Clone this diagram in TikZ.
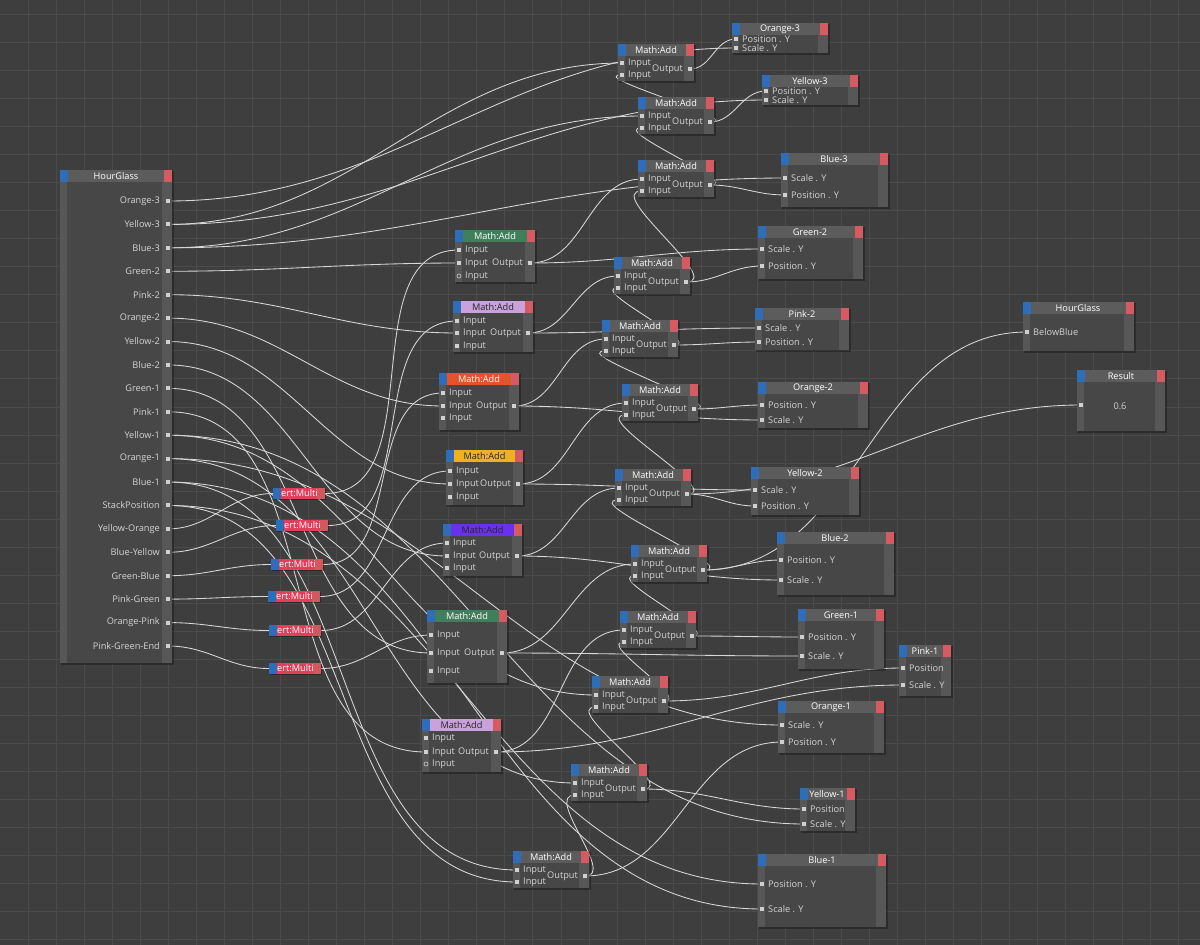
\documentclass[tikz,border=0pt]{standalone}
\usepackage{fontspec}
\setmainfont{Open Sans}
\definecolor{bg}{HTML}{3E3E3E}
\definecolor{gridc}{HTML}{4B4B4B}
\definecolor{bodyc}{HTML}{474747}
\definecolor{colc}{HTML}{575757}
\definecolor{hdr}{HTML}{5C5C5C}
\definecolor{tabb}{HTML}{2F6DB8}
\definecolor{tabr}{HTML}{D65A62}
\definecolor{txt}{HTML}{D4D4D4}
\definecolor{wirec}{HTML}{D8D8D8}
\definecolor{portc}{HTML}{D0D0D0}
\definecolor{gadd}{HTML}{3F7F5C}
\definecolor{padd}{HTML}{C9A2DC}
\definecolor{oadd}{HTML}{E5532B}
\definecolor{yadd}{HTML}{F2B01E}
\definecolor{vadd}{HTML}{6930F0}
\definecolor{multic}{HTML}{E63D5B}
\definecolor{multir}{HTML}{D2585E}
\pgfdeclarelayer{gridlayer}
\pgfdeclarelayer{wirelayer}
\pgfsetlayers{gridlayer,wirelayer,main}
% box: x,y,w,h,header colour
\newcommand\xbox[5]{%
  \fill[black,opacity=0.3] (#1+1,#2+1) rectangle (#1+#3+2,#2+#4+2);
  \fill[bodyc] (#1,#2) rectangle (#1+#3,#2+#4);
  \fill[colc] (#1,#2+12) rectangle (#1+7,#2+#4);
  \fill[colc] (#1+#3-10,#2+12) rectangle (#1+#3,#2+#4);
  \fill[#5] (#1+8,#2) rectangle (#1+#3-8,#2+12);
  \fill[tabb] (#1,#2) rectangle (#1+8,#2+12);
  \fill[tabr] (#1+#3-8,#2) rectangle (#1+#3,#2+12);}
\newcommand\ttl[5]{\node[ttlstyle,text=#5] (#1) at (#2,#3) {#4};}
% in port: name,x,y,label
\newcommand\inp[4]{\coordinate (#1) at (#2,#3);
  \fill[portc] (#2-2,#3-2) rectangle (#2+2,#3+2);
  \node[lbl,anchor=west] at (#2+6,#3) {#4};}
\newcommand\hollow[4]{\draw[portc,line width=0.6pt] (#2,#3) circle (2);
  \node[lbl,anchor=west] at (#2+6,#3) {#4};}
\newcommand\outp[4]{\coordinate (#1) at (#2,#3);
  \fill[portc] (#2-2,#3-2) rectangle (#2+2,#3+2);
  \node[lbl,anchor=east,fill=bodyc,inner xsep=1pt] at (#2-6,#3) {#4};}
% small Math:Add: name,x,y
\newcommand\smalladd[3]{%
  \xbox{#2}{#3}{76}{37}{hdr}
  \ttl{#1}{#2+38}{#3+6}{Math:Add}{white}
  \inp{#1-i1}{#2+4}{#3+19}{Input}
  \inp{#1-i2}{#2+4}{#3+31}{Input}
  \outp{#1-o}{#2+72}{#3+25}{Output}}
% big Math:Add: name,x,y,w,h,colour,textcolour,row1,row2
\newcommand\bigadd[9]{%
  \xbox{#2}{#3}{#4}{#5}{#6}
  \ttl{#1}{#2+#4/2}{#3+6}{Math:Add}{#7}
  \inp{#1-i1}{#2+4}{#8}{Input}
  \inp{#1-i2}{#2+4}{#9}{Input}
  \outp{#1-o}{#2+#4-5}{#9}{Output}}
\newcommand\multi[2]{%
  \fill[black,opacity=0.3] (#1+1,#2+1) rectangle (#1+53,#2+12);
  \fill[tabb] (#1,#2) rectangle (#1+8,#2+11);
  \fill[multic] (#1+8,#2) rectangle (#1+44,#2+11);
  \fill[multir] (#1+44,#2) rectangle (#1+52,#2+11);}
\begin{document}
\begin{tikzpicture}[x=1pt,y=-1pt,
  lbl/.style={text=txt,font=\fontsize{9.2}{10}\selectfont,inner sep=0pt},
  ttlstyle/.style={font=\fontsize{9.2}{10}\selectfont,inner sep=0pt},
  wire/.style={draw=wirec,line width=0.85pt},
  hgl/.style={lbl,anchor=east}]
\useasboundingbox (0,0) rectangle (1200,945);
\begin{pgfonlayer}{gridlayer}
\fill[bg] (0,0) rectangle (1200,945);
\foreach \i in {1,...,42} \draw[gridc,line width=1pt] (28.05*\i,0) -- (28.05*\i,945);
\foreach \j in {0,...,33} \draw[gridc,line width=1pt] (0,14.3+28.05*\j) -- (1200,14.3+28.05*\j);
\end{pgfonlayer}

% ---------- HourGlass (left)
\xbox{60}{170}{112}{493}{hdr}
\ttl{hg}{116}{176}{HourGlass}{white}
\foreach \n/\t [count=\k from 0] in {o3/Orange-3,y3/Yellow-3,b3/Blue-3,g2/Green-2,p2/Pink-2,o2/Orange-2,y2/Yellow-2,b2/Blue-2,g1/Green-1,p1/Pink-1,y1/Yellow-1,o1/Orange-1,b1/Blue-1,sp/StackPosition,yo/Yellow-Orange,by/Blue-Yellow,gb/Green-Blue,pg/Pink-Green,op/Orange-Pink,pge/Pink-Green-End}{
  \coordinate (hg-\n) at (168,201+23.42*\k);
  \fill[portc] (166,199+23.42*\k) rectangle (170,203+23.42*\k);
  \node[hgl] at (160,201+23.42*\k) {\t};}

% ---------- targets
\xbox{732}{23}{96}{30}{hdr}\ttl{t-o3}{780}{29}{Orange-3}{white}
\inp{t-o3-p}{736}{39}{Position . Y}\inp{t-o3-s}{736}{48}{Scale . Y}
\xbox{762}{75}{96}{30}{hdr}\ttl{t-y3}{810}{81}{Yellow-3}{white}
\inp{t-y3-p}{766}{91}{Position . Y}\inp{t-y3-s}{766}{100}{Scale . Y}
\xbox{781}{153}{107}{54}{hdr}\ttl{t-b3}{834}{159}{Blue-3}{white}
\inp{t-b3-s}{785}{178}{Scale . Y}\inp{t-b3-p}{785}{195}{Position . Y}
\xbox{758}{226}{105}{53}{hdr}\ttl{t-g2}{810}{232}{Green-2}{white}
\inp{t-g2-s}{762}{249}{Scale . Y}\inp{t-g2-p}{762}{266}{Position . Y}
\xbox{755}{308}{94}{42}{hdr}\ttl{t-p2}{802}{314}{Pink-2}{white}
\inp{t-p2-s}{759}{328}{Scale . Y}\inp{t-p2-p}{759}{342}{Position . Y}
\xbox{758}{382}{110}{46}{hdr}\ttl{t-o2}{813}{388}{Orange-2}{white}
\inp{t-o2-p}{762}{405}{Position . Y}\inp{t-o2-s}{762}{420}{Scale . Y}
\xbox{751}{467}{108}{48}{hdr}\ttl{t-y2}{805}{473}{Yellow-2}{white}
\inp{t-y2-s}{755}{490}{Scale . Y}\inp{t-y2-p}{755}{506}{Position . Y}
\xbox{777}{532}{117}{63}{hdr}\ttl{t-b2}{835}{538}{Blue-2}{white}
\inp{t-b2-p}{781}{560}{Position . Y}\inp{t-b2-s}{781}{580}{Scale . Y}
\xbox{798}{609}{86}{60}{hdr}\ttl{t-g1}{841}{615}{Green-1}{white}
\inp{t-g1-p}{802}{637}{Position . Y}\inp{t-g1-s}{802}{656}{Scale . Y}
\xbox{899}{645}{52}{51}{hdr}\ttl{t-p1}{925}{651}{Pink-1}{white}
\inp{t-p1-p}{903}{668}{Position}\inp{t-p1-s}{903}{685}{Scale . Y}
\xbox{778}{701}{106}{52}{hdr}\ttl{t-o1}{831}{707}{Orange-1}{white}
\inp{t-o1-s}{782}{725}{Scale . Y}\inp{t-o1-p}{782}{742}{Position . Y}
\xbox{800}{788}{55}{43}{hdr}\ttl{t-y1}{827}{794}{Yellow-1}{white}
\inp{t-y1-p}{804}{809}{Position}\inp{t-y1-s}{804}{824}{Scale . Y}
\xbox{758}{854}{128}{73}{hdr}\ttl{t-b1}{822}{860}{Blue-1}{white}
\inp{t-b1-p}{762}{884}{Position . Y}\inp{t-b1-s}{762}{909}{Scale . Y}

% ---------- right side
\xbox{1023}{302}{111}{49}{hdr}\ttl{hg2}{1078}{308}{HourGlass}{white}
\inp{hg2-bb}{1027}{332}{BelowBlue}
\xbox{1077}{370}{88}{61}{hdr}\ttl{res}{1121}{376}{Result}{white}
\coordinate (res-i) at (1081,405);
\fill[portc] (1079,403) rectangle (1083,407);
\node[lbl] (res-v) at (1120,406) {0.6};

% ---------- small Math:Add chain
\smalladd{a1}{618}{44}
\smalladd{a2}{638}{97}
\smalladd{a3}{638}{160}
\smalladd{a4}{614}{257}
\smalladd{a5}{602}{320}
\smalladd{a6}{622}{384}
\smalladd{a7}{615}{469}
\smalladd{a8}{631}{545}
\smalladd{a9}{620}{611}
\smalladd{a10}{592}{676}
\smalladd{a11}{571}{764}
\smalladd{a12}{513}{851}

% ---------- coloured Math:Add
\bigadd{g1}{455}{230}{80}{52}{gadd}{white}{250}{263}
\hollow{}{459}{276}{Input}
\bigadd{p1}{453}{301}{80}{51}{padd}{black!85}{321}{333}
\inp{p1-i3}{457}{346}{Input}
\bigadd{o1}{439}{373}{80}{57}{oadd}{white}{393}{406}
\inp{o1-i3}{443}{418}{Input}
\bigadd{y1}{446}{450}{77}{55}{yadd}{black!85}{471}{484}
\inp{y1-i3}{450}{497}{Input}
\bigadd{v1}{443}{524}{79}{52}{vadd}{black!85}{543}{556}
\inp{v1-i3}{447}{568}{Input}
\bigadd{g2}{427}{610}{80}{73}{gadd}{white}{635}{653}
\inp{g2-i3}{431}{671}{Input}
\bigadd{pp2}{422}{719}{79}{53}{padd}{black!85}{738}{752}
\hollow{}{426}{764}{Input}

% ---------- ert:Multi
\foreach \nm/\x/\y in {m1/273/488,m2/276/520,m3/271/559,m4/268/591,m5/269/625,m6/269/663}{
  \multi{\x}{\y}
  \node[ttlstyle,text=white,anchor=west] (\nm) at (\x+8,\y+5.5) {ert:Multi};
  \coordinate (\nm-i) at (\x,\y+5.5);
  \coordinate (\nm-o) at (\x+52,\y+5.5);}

% ---------- wires
\begin{pgfonlayer}{wirelayer}
\tikzset{every path/.append style={wire}}
% scale inputs of targets
\draw (hg-o3) to[out=0,in=180] (t-o3-s);
\draw (hg-y3) to[out=0,in=180] (t-y3-s);
\draw (hg-b3) to[out=0,in=180] (t-b3-s);
\draw (g1-o) to[out=0,in=180] (t-g2-s);
\draw (p1-o) to[out=0,in=180] (t-p2-s);
\draw (o1-o) to[out=0,in=180] (t-o2-s);
\draw (y1-o) to[out=0,in=180] (t-y2-s);
\draw (v1-o) to[out=0,in=180] (t-b2-s);
\draw (g2-o) to[out=0,in=180] (t-g1-s);
\draw (pp2-o) to[out=0,in=180] (t-p1-s);
\draw (hg-o1) to[out=0,in=180] (t-o1-s);
\draw (hg-y1) to[out=0,in=180] (t-y1-s);
\draw (hg-b1) to[out=0,in=180] (t-b1-s);
% positions
\draw (a1-o) to[out=0,in=180] (t-o3-p);
\draw (a2-o) to[out=0,in=180] (t-y3-p);
\draw (a3-o) to[out=0,in=180] (t-b3-p);
\draw (a4-o) to[out=0,in=180] (t-g2-p);
\draw (a5-o) to[out=0,in=180] (t-p2-p);
\draw (a6-o) to[out=0,in=180] (t-o2-p);
\draw (a7-o) to[out=0,in=180] (t-y2-p);
\draw (a8-o) to[out=0,in=180] (t-b2-p);
\draw (a9-o) to[out=0,in=180] (t-g1-p);
\draw (a10-o) to[out=0,in=180] (t-p1-p);
\draw (a11-o) to[out=0,in=180] (t-y1-p);
\draw (a12-o) to[out=0,in=180] (t-o1-p);
\draw (hg-sp) to[out=0,in=180] (t-b1-p);
% chain
\draw (a2-o) to[out=0,in=180] (a1-i2);
\draw (a3-o) to[out=0,in=180] (a2-i2);
\draw (a4-o) to[out=0,in=180] (a3-i2);
\draw (a5-o) to[out=0,in=180] (a4-i2);
\draw (a6-o) to[out=0,in=180] (a5-i2);
\draw (a7-o) to[out=0,in=180] (a6-i2);
\draw (a8-o) to[out=0,in=180] (a7-i2);
\draw (a9-o) to[out=0,in=180] (a8-i2);
\draw (a10-o) to[out=0,in=180] (a9-i2);
\draw (a11-o) to[out=0,in=180] (a10-i2);
\draw (a12-o) to[out=0,in=180] (a11-i2);
\draw (hg-sp) to[out=0,in=180] (a12-i2);
% in1 of chain
\draw (hg-y3) to[out=0,in=180] (a1-i1);
\draw (hg-b3) to[out=0,in=180] (a2-i1);
\draw (g1-o) to[out=0,in=180] (a3-i1);
\draw (p1-o) to[out=0,in=180] (a4-i1);
\draw (o1-o) to[out=0,in=180] (a5-i1);
\draw (y1-o) to[out=0,in=180] (a6-i1);
\draw (v1-o) to[out=0,in=180] (a7-i1);
\draw (g2-o) to[out=0,in=180] (a8-i1);
\draw (pp2-o) to[out=0,in=180] (a9-i1);
\draw (hg-y1) to[out=0,in=180] (a10-i1);
\draw (hg-o1) to[out=0,in=180] (a11-i1);
\draw (hg-b1) to[out=0,in=180] (a12-i1);
% right
\draw (a8-o) to[out=0,in=180] (hg2-bb);
\draw (a7-o) to[out=0,in=180] (res-i);
% coloured adds
\draw (hg-g2) to[out=0,in=180] (g1-i2);
\draw (hg-p2) to[out=0,in=180] (p1-i2);
\draw (hg-o2) to[out=0,in=180] (o1-i2);
\draw (hg-y2) to[out=0,in=180] (y1-i2);
\draw (hg-b2) to[out=0,in=180] (v1-i2);
\draw (hg-g1) to[out=0,in=180] (g2-i2);
\draw (hg-p1) to[out=0,in=180] (pp2-i2);
% multis
\draw (hg-yo) to[out=0,in=180] (m1-i);
\draw (hg-by) to[out=0,in=180] (m2-i);
\draw (hg-gb) to[out=0,in=180] (m3-i);
\draw (hg-pg) to[out=0,in=180] (m4-i);
\draw (hg-op) to[out=0,in=180] (m5-i);
\draw (hg-pge) to[out=0,in=180] (m6-i);
\draw (m1-o) to[out=0,in=180] (g1-i1);
\draw (m2-o) to[out=0,in=180] (p1-i1);
\draw (m3-o) to[out=0,in=180] (o1-i1);
\draw (m4-o) to[out=0,in=180] (y1-i1);
\draw (m5-o) to[out=0,in=180] (v1-i1);
\draw (m6-o) to[out=0,in=180] (g2-i1);
\end{pgfonlayer}
\end{tikzpicture}
\end{document}
